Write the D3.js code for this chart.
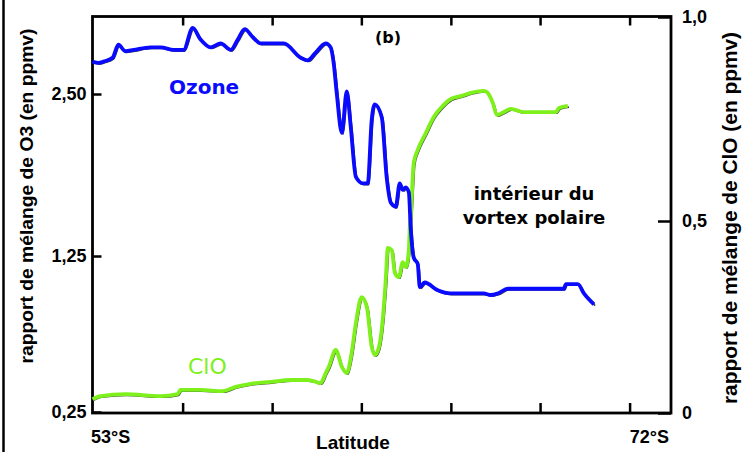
<!DOCTYPE html>
<html>
<head>
<meta charset="utf-8">
<script src="https://cdn.jsdelivr.net/npm/d3@7"></script>
<style>
  body { margin: 0; background: #fff; }
  svg { display: block; }
</style>
</head>
<body>
<div id="chart"></div>
<script>
// latitude (°S) and O3 mixing ratio (ppmv)
const ozoneLat = [53.00, 53.20, 53.36, 53.66, 53.85, 54.08, 54.35, 54.91, 55.24, 55.66, 55.99, 56.29, 56.55, 56.88,
  57.21, 57.54, 57.77, 58.00, 58.26, 58.52, 59.28, 59.84, 60.07, 60.33, 60.66, 60.82, 60.92, 61.02, 61.19, 61.35,
  61.48, 61.65, 61.88, 62.04, 62.17, 62.27, 62.50, 62.66, 62.80, 62.96, 63.09, 63.19, 63.29, 63.39, 63.45, 63.55,
  63.68, 63.75, 63.91, 64.34, 64.77, 65.85, 66.08, 66.31, 66.64, 67.73, 68.48, 68.55, 68.94, 69.14, 69.47];
const ozoneVal = [2.75, 2.74, 2.75, 2.78, 2.88, 2.83, 2.84, 2.86, 2.86, 2.84, 2.84, 3.01, 2.92, 2.86,
  2.89, 2.84, 2.92, 3.00, 2.94, 2.89, 2.89, 2.78, 2.76, 2.82, 2.89, 2.86, 2.74, 2.51, 2.20, 2.52,
  2.25, 1.86, 1.81, 1.81, 2.30, 2.42, 2.32, 1.86, 1.66, 1.63, 1.81, 1.76, 1.78, 1.74, 1.47, 1.24,
  1.20, 1.05, 1.08, 1.03, 1.01, 1.01, 1.00, 1.01, 1.04, 1.04, 1.04, 1.07, 1.07, 1.01, 0.94];

// latitude (°S) and ClO mixing ratio (ppmv)
const cloLat = [53.00, 53.26, 54.08, 55.24, 55.79, 55.89, 56.55, 57.27, 57.70, 58.19, 58.85, 59.51, 60.07, 60.26,
  60.49, 60.66, 60.76, 60.99, 61.19, 61.35, 61.51, 61.65, 61.84, 62.01, 62.17, 62.27, 62.40, 62.53, 62.63, 62.70,
  62.83, 62.93, 63.06, 63.19, 63.29, 63.39, 63.42, 63.45, 63.55, 63.68, 63.95, 64.21, 64.44, 64.77, 65.10, 65.43,
  65.85, 65.95, 66.15, 66.28, 66.51, 66.74, 67.17, 67.73, 68.22, 68.32, 68.61];
const cloVal = [0.036, 0.044, 0.049, 0.044, 0.049, 0.060, 0.060, 0.057, 0.068, 0.076, 0.081, 0.086, 0.086, 0.083,
  0.078, 0.104, 0.120, 0.164, 0.120, 0.104, 0.156, 0.234, 0.302, 0.276, 0.172, 0.151, 0.169, 0.242, 0.346, 0.430,
  0.424, 0.365, 0.354, 0.393, 0.380, 0.424, 0.484, 0.510, 0.642, 0.674, 0.716, 0.755, 0.777, 0.799, 0.806, 0.814,
  0.819, 0.816, 0.789, 0.760, 0.767, 0.775, 0.767, 0.767, 0.767, 0.777, 0.782];

const latTicks = [55.96, 58.90, 61.83, 64.77, 67.70, 70.64];
const o3Ticks = [0.25, 1.25, 2.5];
const o3Labels = ["0,25", "1,25", "2,50"];
const cloTicks = [0, 0.5, 1];
const cloLabels = ["0", "0,5", "1,0"];

const W = 746, H = 452;
const m = { left: 92.5, right: 671, top: 16.5, bottom: 413 };

const svg = d3.select("#chart").append("svg")
  .attr("width", W)
  .attr("height", H);

const x = d3.scaleLinear().domain([53, 72]).range([m.left, m.right]);
// the scanned axes are not quite linear, so piecewise domains
const yO3 = d3.scaleLinear().domain([0.25, 1.25, 2.5]).range([412, 256, 94]);
const yClO = d3.scaleLinear().domain([0, 0.5, 1]).range([m.bottom, 221, 17]);

const boldSans = "'Liberation Sans', Arial, sans-serif";
const verdana = "'DejaVu Sans', Verdana, sans-serif";

// scan border on the far left
svg.append("line")
  .attr("x1", 3.5).attr("x2", 3.5).attr("y1", 0).attr("y2", H)
  .attr("stroke", "#000").attr("stroke-width", 2.5);

function styleAxis(g) {
  g.select(".domain").remove();
  g.selectAll(".tick line").attr("stroke", "#000").attr("stroke-width", 2.5);
  g.selectAll(".tick text")
    .attr("fill", "#000")
    .style("font-family", boldSans)
    .style("font-weight", "bold")
    .style("font-size", "18px");
}

svg.append("g")
  .attr("transform", `translate(${m.left},0)`)
  .call(d3.axisLeft(yO3).tickValues(o3Ticks).tickSize(-9).tickPadding(6)
    .tickFormat((d, i) => o3Labels[i]))
  .call(styleAxis);

svg.append("g")
  .attr("transform", `translate(${m.right},0)`)
  .call(d3.axisRight(yClO).tickValues(cloTicks).tickSize(-13).tickPadding(11)
    .tickFormat((d, i) => cloLabels[i]))
  .call(styleAxis);

svg.append("g")
  .attr("transform", `translate(0,${m.bottom})`)
  .call(d3.axisBottom(x).tickValues(latTicks).tickSize(-10).tickFormat(""))
  .call(styleAxis);

svg.append("g")
  .attr("transform", `translate(0,${m.top})`)
  .call(d3.axisTop(x).tickValues(latTicks).tickSize(-9).tickFormat(""))
  .call(styleAxis);

svg.append("rect")
  .attr("x", m.left).attr("y", m.top)
  .attr("width", m.right - m.left).attr("height", m.bottom - m.top)
  .attr("fill", "none").attr("stroke", "#000").attr("stroke-width", 2.8);

const ozone = ozoneLat.map((d, i) => [d, ozoneVal[i]]);
const clo = cloLat.map((d, i) => [d, cloVal[i]]);

const lineO3 = d3.line().x(d => x(d[0])).y(d => yO3(d[1])).curve(d3.curveMonotoneX);
const lineClO = d3.line().x(d => x(d[0])).y(d => yClO(d[1])).curve(d3.curveMonotoneX);

// the scan shows a dark trace just under each coloured one
svg.append("path").datum(clo).attr("d", lineClO)
  .attr("transform", "translate(1.2,1.2)")
  .attr("fill", "none").attr("stroke", "#000").attr("stroke-width", 1.6).attr("opacity", 0.75);
svg.append("path").datum(ozone).attr("d", lineO3)
  .attr("transform", "translate(1.2,1.2)")
  .attr("fill", "none").attr("stroke", "#000").attr("stroke-width", 1.6).attr("opacity", 0.75);

svg.append("path").datum(clo).attr("d", lineClO)
  .attr("fill", "none").attr("stroke", "#7ef01c").attr("stroke-width", 3.8)
  .attr("stroke-linejoin", "round");
svg.append("path").datum(ozone).attr("d", lineO3)
  .attr("fill", "none").attr("stroke", "#0a0aff").attr("stroke-width", 3.8)
  .attr("stroke-linejoin", "round");

// labels
svg.append("text").attr("x", 169).attr("y", 94)
  .attr("fill", "#0a0aff")
  .style("font-family", verdana)
  .style("font-weight", "bold").style("font-size", "20px")
  .text("Ozone");

svg.append("text").attr("x", 188).attr("y", 374)
  .attr("fill", "#7ef01c")
  .style("font-family", verdana)
  .style("font-size", "22px")
  .text("ClO");

svg.append("text").attr("x", 375).attr("y", 43)
  .style("font-family", verdana)
  .style("font-weight", "bold").style("font-size", "16px")
  .text("(b)");

const note = svg.append("text")
  .attr("text-anchor", "middle")
  .style("font-family", verdana)
  .style("font-weight", "bold").style("font-size", "18px");
note.append("tspan").attr("x", 534).attr("y", 200).text("intérieur du");
note.append("tspan").attr("x", 534).attr("y", 224).text("vortex polaire");

svg.append("text").attr("x", 91).attr("y", 443)
  .style("font-family", boldSans).style("font-weight", "bold").style("font-size", "18px")
  .text("53°S");
svg.append("text").attr("x", 669).attr("y", 443).attr("text-anchor", "end")
  .style("font-family", boldSans).style("font-weight", "bold").style("font-size", "18px")
  .text("72°S");
svg.append("text").attr("x", 353).attr("y", 449).attr("text-anchor", "middle")
  .style("font-family", boldSans).style("font-weight", "bold").style("font-size", "19px")
  .text("Latitude");

svg.append("text")
  .attr("transform", "translate(33,196) rotate(-90)")
  .attr("text-anchor", "middle")
  .attr("textLength", 335).attr("lengthAdjust", "spacingAndGlyphs")
  .style("font-family", boldSans).style("font-weight", "bold").style("font-size", "19px")
  .text("rapport de mélange de O3 (en ppmv)");

svg.append("text")
  .attr("transform", "translate(737,218) rotate(-90)")
  .attr("text-anchor", "middle")
  .attr("textLength", 372).attr("lengthAdjust", "spacingAndGlyphs")
  .style("font-family", boldSans).style("font-weight", "bold").style("font-size", "20px")
  .text("rapport de mélange de ClO (en ppmv)");
</script>
</body>
</html>
